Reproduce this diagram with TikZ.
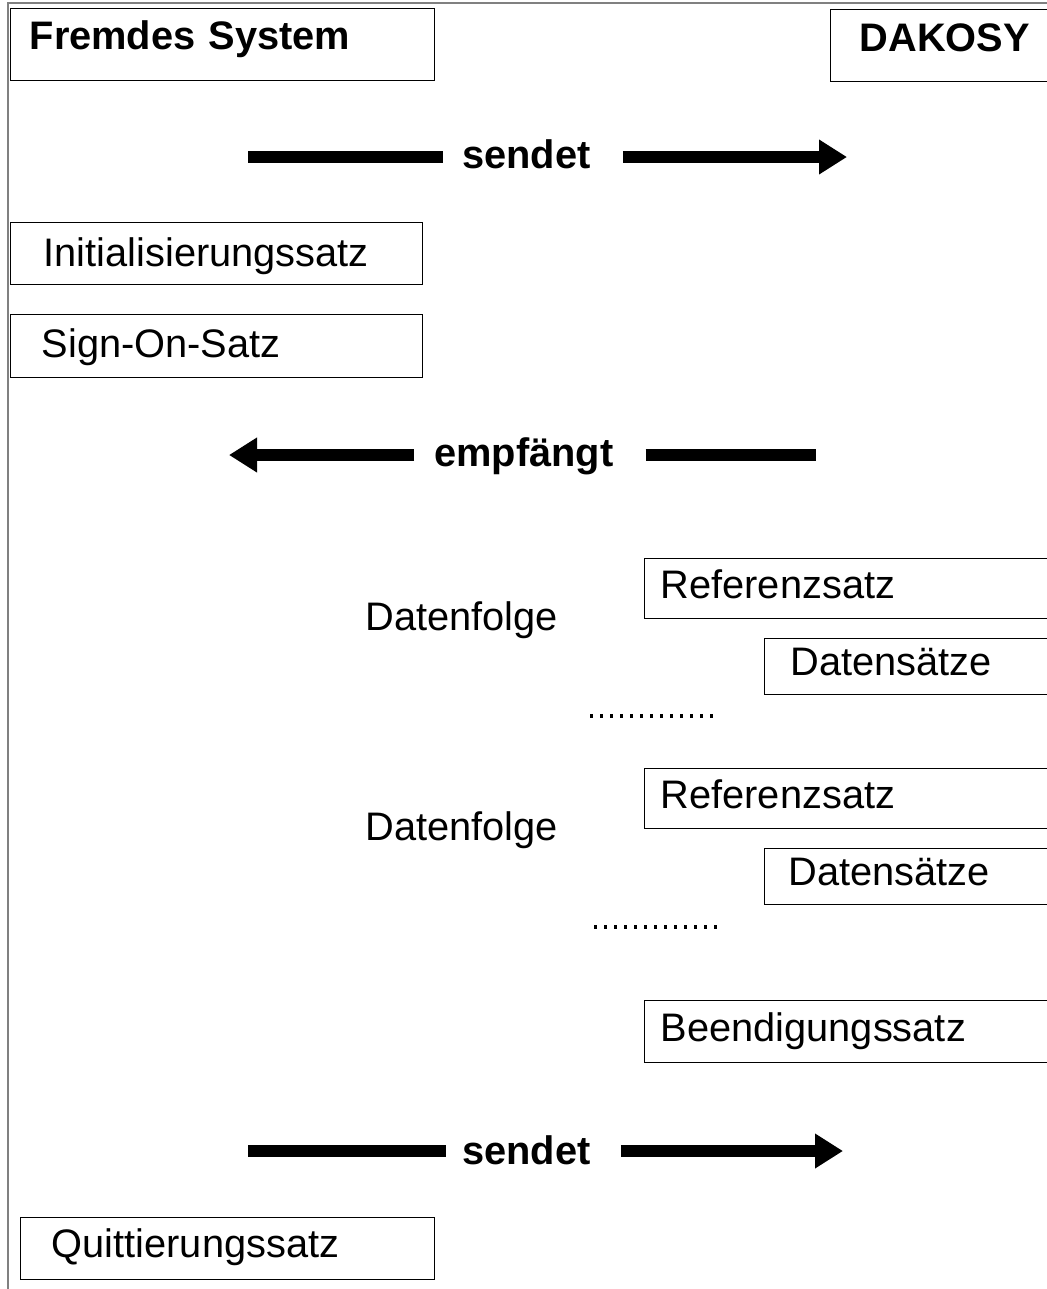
\documentclass[tikz,border=0pt]{standalone}
\usepackage{fontspec}
\setmainfont{Liberation Sans}
\usetikzlibrary{arrows.meta}

\newcommand{\schrift}{\fontsize{28.3}{32}\selectfont}

\tikzset{
  box/.style={draw, line width=0.35mm, anchor=north west, inner ysep=0pt,
    align=left, font=\schrift},
  lbl/.style={anchor=base west, inner sep=0pt, font=\schrift},
  bar/.style={line width=2.9mm},
  pfeil/.style={bar, -{Triangle[length=7mm,width=8.25mm]}},
  punkte/.style={line width=0.8mm, dash pattern=on 0.8mm off 1.7mm},
  rahmen/.style={gray, line width=0.5mm}
}

\begin{document}
\begin{tikzpicture}[x=0.25mm,y=-0.25mm]
        \clip (0,0) rectangle (1047,1289);
        % Rahmen
        \draw [rahmen] (8,1289) -- (8,3) -- (1047,3);
        % Kopf
        \node [box, inner xsep=4.75mm, text width=96.5mm, text height=10.25mm, text depth=7.75mm] (fremd) at (10,8) {\textbf{Fremdes System}};
        \node [box, inner xsep=7.25mm, text width=43mm, text height=10.5mm, text depth=7.5mm] (dakosy) at (830,9) {\textbf{DAKOSY}};
        % sendet 1
        \coordinate (s1l) at (248,157);
        \coordinate (s1r) at (847,157);
        \node [lbl] (sendet1) at (462,168) {\textbf{sendet}};
        \draw [bar, shorten >=4.75mm] (s1l) -- (s1l -| sendet1.west);
        \draw [pfeil, shorten <=8mm] (s1l -| sendet1.east) -- (s1r);
        % Initialisierung
        \node [box, inner xsep=8.25mm, text width=86.5mm, text height=11mm, text depth=4.5mm] (init) at (10,222) {Initialisierungssatz};
        \node [box, inner xsep=7.75mm, text width=87.5mm, text height=10.75mm, text depth=5mm] (signon) at (10,314) {Sign-On-Satz};
        % empfaengt
        \coordinate (e1l) at (229,455);
        \coordinate (e1r) at (816,455);
        \node [lbl] (empf) at (434,466) {\textbf{empfängt}};
        \draw [pfeil, shorten <=5mm] (e1l -| empf.west) -- (e1l);
        \draw [bar, shorten <=8mm] (e1l -| empf.east) -- (e1r);
        % Datenfolge 1
        \node [lbl] (folge1) at (365,630) {Datenfolge};
        \node [box, inner xsep=4mm, text width=96mm, text height=10mm, text depth=5mm] (ref1) at (644,558) {Referenzsatz};
        \node [box, inner xsep=6.5mm, text width=61mm, text height=9.25mm, text depth=4.75mm] (daten1) at (764,638) {Datensätze};
        \draw [punkte] (590,716) -- (720,716);
        % Datenfolge 2
        \node [lbl] (folge2) at (365,840) {Datenfolge};
        \node [box, inner xsep=4mm, text width=96mm, text height=10mm, text depth=5mm] (ref2) at (644,768) {Referenzsatz};
        \node [box, inner xsep=6mm, text width=62mm, text height=9.25mm, text depth=4.75mm] (daten2) at (764,848) {Datensätze};
        \draw [punkte] (594,927) -- (722,927);
        % Beendigung
        \node [box, inner xsep=4mm, text width=96mm, text height=10.25mm, text depth=5.25mm] (ende) at (644,1000) {Beendigungssatz};
        % sendet 2
        \coordinate (s2l) at (248,1151);
        \coordinate (s2r) at (843,1151);
        \node [lbl] (sendet2) at (462,1164) {\textbf{sendet}};
        \draw [bar, shorten >=4mm] (s2l) -- (s2l -| sendet2.west);
        \draw [pfeil, shorten <=7.5mm] (s2l -| sendet2.east) -- (s2r);
        % Quittierung
        \node [box, inner xsep=7.75mm, text width=88mm, text height=10mm, text depth=5.5mm] (quitt) at (20,1217) {Quittierungssatz};
    \end{tikzpicture}
\end{document}
